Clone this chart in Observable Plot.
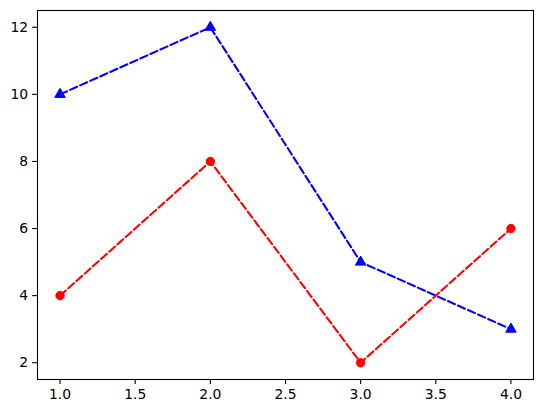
<!DOCTYPE html>
<html>
<head>
<meta charset="utf-8">
<script src="https://cdn.jsdelivr.net/npm/d3@7"></script>
<script src="https://cdn.jsdelivr.net/npm/@observablehq/plot@0.6"></script>
<style>
  html, body { margin: 0; padding: 0; background: #fff; }
  svg text { font-size: 13.9px !important; font-family: "DejaVu Sans" !important; fill: #000; }
</style>
</head>
<body>
<div id="chart"></div>
<script>
const xs = [1, 2, 3, 4];
const redValues = [4, 8, 2, 6];
const blueValues = [10, 12, 5, 3];
const xTicks = [1.0, 1.5, 2.0, 2.5, 3.0, 3.5, 4.0];
const yTicks = [2, 4, 6, 8, 10, 12];

const red = xs.map((x, i) => ({x, y: redValues[i]}));
const blue = xs.map((x, i) => ({x, y: blueValues[i]}));

const chart = Plot.plot({
  width: 543,
  height: 413,
  marginLeft: 37,
  marginRight: 10,
  marginTop: 10,
  marginBottom: 34,
  style: {fontFamily: "DejaVu Sans", fontSize: "13.9px", color: "#000", background: "#fff"},
  x: {domain: [0.85, 4.15]},
  y: {domain: [1.5, 12.5]},
  marks: [
    Plot.axisX({ticks: xTicks, tickFormat: d3.format(".1f"), tickSize: 4.9, tickPadding: 4.5, strokeWidth: 1.1, label: null}),
    Plot.axisY({ticks: yTicks, tickFormat: d => String(d), tickSize: 4.9, tickPadding: 4.5, strokeWidth: 1.1, label: null}),
    Plot.line(blue, {x: "x", y: "y", stroke: "#0000ff", strokeWidth: 2.08, strokeDasharray: "7.7,3.3"}),
    Plot.line(red, {x: "x", y: "y", stroke: "#ff0000", strokeWidth: 2.08, strokeDasharray: "7.7,3.3"}),
    Plot.dot(blue, {x: "x", y: "y", symbol: "triangle", r: 3.9, fill: "#0000ff", stroke: "#0000ff", strokeWidth: 1}),
    Plot.dot(red, {x: "x", y: "y", symbol: "circle", r: 4.2, fill: "#ff0000", stroke: "#ff0000", strokeWidth: 1}),
    Plot.frame({stroke: "#000", strokeWidth: 1.1})
  ]
});
document.getElementById("chart").appendChild(chart);
</script>
</body>
</html>
